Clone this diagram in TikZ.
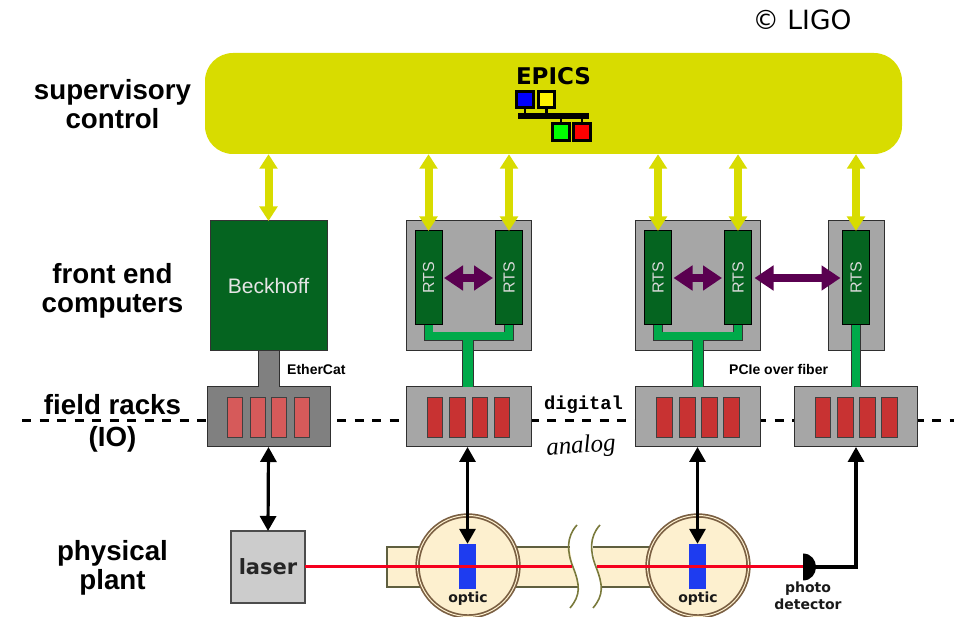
\documentclass[tikz,border=0pt]{standalone}
\usepackage{graphicx}
\usepackage{fontspec}
\setmainfont{Liberation Sans}
\newfontfamily\dejavu{DejaVu Sans}
\newfontfamily\typefont{Liberation Mono}
\newfontfamily\handfont{Liberation Serif}
\usetikzlibrary{arrows.meta, positioning, calc}

\definecolor{superyellow}{HTML}{D8DC00}
\definecolor{frontgreen}{HTML}{056420}
\definecolor{busgreen}{HTML}{00AA4A}
\definecolor{boxgray}{HTML}{A6A6A6}
\definecolor{darkgray}{HTML}{808080}
\definecolor{edgegray}{HTML}{2F2F2F}
\definecolor{cardred}{HTML}{C83232}
\definecolor{cardpale}{HTML}{D65A5A}
\definecolor{linkpurple}{HTML}{5A0050}
\definecolor{tubecream}{HTML}{FDF0CF}
\definecolor{tubeedge}{HTML}{5F5F3F}
\definecolor{wavyedge}{HTML}{7A7A3C}
\definecolor{ringbrown}{HTML}{7A5F42}
\definecolor{opticblue}{HTML}{1E3CF0}
\definecolor{laserred}{HTML}{F5001E}

\begin{document}
\begin{tikzpicture}[
    x=1pt, y=-1pt,
    % Row titles on the left
    rowlabel/.style={
        align=center,
        inner sep=0pt,
        font=\fontsize{27.7}{29}\selectfont\bfseries
    },
    % Supervisory band
    superbox/.style={
        rectangle,
        rounded corners=28pt,
        fill=superyellow,
        minimum width=697pt,
        minimum height=101pt,
        inner sep=0pt
    },
    % Gray computer and rack boxes
    graybox/.style={
        rectangle,
        draw=edgegray,
        line width=1pt,
        fill=boxgray,
        inner sep=0pt,
        outer sep=0pt
    },
    % Real time system card
    rtsbox/.style={
        rectangle,
        draw=black,
        line width=1pt,
        fill=frontgreen,
        text=white!85!black,
        minimum width=27pt,
        minimum height=94pt,
        inner sep=0pt,
        outer sep=0pt,
        font=\fontsize{16}{16}\selectfont
    },
    % Red card in a field rack
    cardbox/.style={
        rectangle,
        draw=black!75,
        line width=0.8pt,
        fill=cardred,
        minimum width=15.5pt,
        minimum height=40pt,
        inner sep=0pt
    },
    % EPICS logo squares
    logobox/.style={
        rectangle,
        draw=black,
        line width=3pt,
        minimum width=16.5pt,
        minimum height=16.5pt,
        inner sep=0pt,
        outer sep=0pt
    },
    % Optic on the beam
    opticbox/.style={
        rectangle,
        fill=opticblue,
        minimum width=17pt,
        minimum height=45pt,
        inner sep=0pt
    },
    % Vacuum chamber
    chamber/.style={
        circle,
        draw=ringbrown,
        line width=1.7pt,
        double=tubecream,
        double distance=1pt,
        fill=tubecream,
        minimum size=101pt,
        inner sep=0pt
    },
    % Small bold captions
    caption/.style={
        inner sep=0pt,
        font=\fontsize{14}{14}\selectfont\bfseries
    },
    plantcaption/.style={
        align=center,
        inner sep=0pt,
        text=black!90,
        font=\dejavu\fontsize{14}{17}\selectfont\bfseries
    },
    % Arrow styles
    superarrow/.style={
        {Triangle[length=14.5pt,width=17.5pt]}-{Triangle[length=14.5pt,width=17.5pt]},
        line width=8pt,
        superyellow
    },
    linkarrow/.style={
        {Triangle[length=19pt,width=24pt]}-{Triangle[length=19pt,width=24pt]},
        line width=8pt,
        linkpurple
    },
    plantarrow/.style={
        {Triangle[length=15pt,width=16pt]}-{Triangle[length=15pt,width=16pt]},
        line width=3.2pt,
        black
    },
    bus/.style={line width=8pt, busgreen},
    busedge/.style={line width=9.6pt, black!80},
    stem/.style={line width=10.5pt, busgreen},
    stemedge/.style={line width=12pt, black!80}
]
\useasboundingbox (0,0) rectangle (954,617);

% === Credit and row titles ===
\node[font=\dejavu\fontsize{26.5}{26.5}\selectfont, inner sep=0pt] (credit) at (802,20) {© LIGO};
\node[rowlabel] (rowsuper) at (112.5,104) {supervisory\\control};
\node[rowlabel] (rowfront) at (112.5,291) {front end\\computers};
\node[rowlabel, font=\fontsize{27.7}{32}\selectfont\bfseries] (rowfield) at (112.5,423) {field racks\\(IO)};
\node[rowlabel] (rowplant) at (112.5,568) {physical\\plant};

% === Field boundary ===
\coordinate (boundaryL) at (22,421);
\coordinate (boundaryR) at (954,421);
\draw[line width=3pt, dash pattern=on 9pt off 8.5pt] (boundaryL) -- (boundaryR);
\node[font=\typefont\fontsize{18.8}{18.8}\selectfont\bfseries, inner sep=0pt] (digital) at (583.5,405) {digital};
\node[font=\handfont\itshape\fontsize{25}{25}\selectfont, inner sep=0pt, rotate=4] (analog) at (581,447) {analog};

% === Supervisory control ===
\node[superbox] (super) at (553.5,103.5) {};
\node[font=\dejavu\fontsize{23}{23}\selectfont\bfseries, inner sep=0pt] (epics) at (553.5,76) {EPICS};
\node[logobox, fill=blue] (logoblue) at (525,99.5) {};
\node[logobox, fill=yellow] (logoyellow) at (546.5,99.5) {};
\node[logobox, fill=green] (logogreen) at (561,132) {};
\node[logobox, fill=red] (logored) at (582,132) {};
\coordinate (logobusL) at (518,116);
\coordinate (logobusR) at (589,116);
\draw[line width=6pt] (logobusL) -- (logobusR);
\draw[line width=2.4pt] (logoblue) -- (logoblue |- logobusL);
\draw[line width=2.4pt] (logoyellow) -- (logoyellow |- logobusL);
\draw[line width=2.4pt] (logogreen) -- (logogreen |- logobusL);
\draw[line width=2.4pt] (logored) -- (logored |- logobusL);

% === Front end computers ===
\node[graybox, draw=black!80, fill=frontgreen, minimum width=117pt, minimum height=130pt, text=white!90!black, font=\fontsize{21}{21}\selectfont] (beckhoff) at (268.5,286) {\raisebox{-2pt}{Beckhoff}};
\node[graybox, minimum width=125pt, minimum height=130pt] (frontA) at (468.5,286) {};
\node[rtsbox] (rtsA1) at (428.5,278) {\rotatebox{90}{RTS}};
\node[rtsbox] (rtsA2) at (509,278) {\rotatebox{90}{RTS}};
\node[graybox, minimum width=125pt, minimum height=130pt] (frontB) at (698,286) {};
\node[rtsbox] (rtsB1) at (658,278) {\rotatebox{90}{RTS}};
\node[rtsbox] (rtsB2) at (738,278) {\rotatebox{90}{RTS}};
\node[graybox, minimum width=56pt, minimum height=130pt] (frontC) at (856,286) {};
\node[rtsbox] (rtsC) at (856,278) {\rotatebox{90}{RTS}};

% === Field racks ===
\node[graybox, fill=darkgray, minimum width=123pt, minimum height=60pt] (rackE) at (268.5,417) {};
\node[graybox, minimum width=125pt, minimum height=60pt] (rackA) at (468.5,417) {};
\node[graybox, minimum width=125pt, minimum height=60pt] (rackB) at (698,417) {};
\node[graybox, minimum width=123pt, minimum height=60pt] (rackC) at (856,417) {};

\node[cardbox, fill=cardpale] (cardE1) at (235,417) {};
\node[cardbox, fill=cardpale] (cardE2) at (258,417) {};
\node[cardbox, fill=cardpale] (cardE3) at (279,417) {};
\node[cardbox, fill=cardpale] (cardE4) at (302,417) {};

\node[cardbox] (cardA1) at (435,417) {};
\node[cardbox] (cardA2) at (457.5,417) {};
\node[cardbox] (cardA3) at (480,417) {};
\node[cardbox] (cardA4) at (502,417) {};

\node[cardbox] (cardB1) at (664.5,417) {};
\node[cardbox] (cardB2) at (687.5,417) {};
\node[cardbox] (cardB3) at (709.5,417) {};
\node[cardbox] (cardB4) at (731.5,417) {};

\node[cardbox] (cardC1) at (823,417) {};
\node[cardbox] (cardC2) at (845.5,417) {};
\node[cardbox] (cardC3) at (867.5,417) {};
\node[cardbox] (cardC4) at (889.5,417) {};

% === Links from racks to computers ===
\draw[line width=21pt, darkgray] (beckhoff.south) -- (rackE.north);
\draw[line width=1pt, edgegray] ([xshift=-10.5pt]beckhoff.south) -- ([xshift=-10.5pt]rackE.north);
\draw[line width=1pt, edgegray] ([xshift=10.5pt]beckhoff.south) -- ([xshift=10.5pt]rackE.north);

\coordinate (busA) at (468,336.5);
\coordinate (busB) at (698,336.5);
\draw[busedge] (rtsA1.south) |- (busA) -| (rtsA2.south);
\draw[stemedge] (busA) -- (busA |- rackA.north);
\draw[bus] (rtsA1.south) |- (busA) -| (rtsA2.south);
\draw[stem] (busA) -- (busA |- rackA.north);
\draw[busedge] (rtsB1.south) |- (busB) -| (rtsB2.south);
\draw[stemedge] (busB) -- (rackB.north);
\draw[bus] (rtsB1.south) |- (busB) -| (rtsB2.south);
\draw[stem] (busB) -- (rackB.north);
\draw[line width=10pt, black!80] (rtsC.south) -- (rackC.north);
\draw[line width=8.5pt, busgreen] (rtsC.south) -- (rackC.north);

\node[caption, anchor=west] (ethercat) at (287,369) {EtherCat};
\node[caption, anchor=west] (pcie) at (729,369) {PCIe over fiber};

% === Arrows to supervisory control ===
\draw[superarrow] (super.south -| beckhoff.north) -- (beckhoff.north);
\draw[superarrow] (super.south -| rtsA1.north) -- (rtsA1.north);
\draw[superarrow] (super.south -| rtsA2.north) -- (rtsA2.north);
\draw[superarrow] (super.south -| rtsB1.north) -- (rtsB1.north);
\draw[superarrow] (super.south -| rtsB2.north) -- (rtsB2.north);
\draw[superarrow] (super.south -| rtsC.north) -- (rtsC.north);

% === Arrows between RTS cards ===
\draw[linkarrow, shorten <=2pt, shorten >=2.5pt] (rtsA1) -- (rtsA2);
\draw[linkarrow, shorten <=2pt, shorten >=2.5pt] (rtsB1) -- (rtsB2);
\draw[linkarrow, shorten <=3pt, shorten >=2pt] (rtsB2) -- (rtsC);

% === Physical plant ===
\fill[tubecream] (387,547) -- (569.5,547) -- (573,567) -- (578.5,587) -- (387,587) -- cycle;
\fill[tubecream] (592.5,547) -- (650,547) -- (650,587) -- (601.5,587) -- (596,567) -- cycle;
\draw[line width=1.5pt, tubeedge] (569.5,547) -- (387,547) -- (387,587) -- (578.5,587);
\draw[line width=1.5pt, tubeedge] (592.5,547) -- (650,547);
\draw[line width=1.5pt, tubeedge] (601.5,587) -- (650,587);
\draw[line width=1.6pt, wavyedge] (577,525) .. controls (566,537) and (567,552) .. (573,567) .. controls (580,585) and (581,595) .. (570,608);
\draw[line width=1.6pt, wavyedge] (600,525) .. controls (589,537) and (590,552) .. (596,567) .. controls (603,585) and (604,595) .. (593,608);

\node[chamber] (chamberA) at (468,566) {};
\node[chamber] (chamberB) at (698,566) {};
\node[opticbox] (opticA) at (467.5,566.5) {};
\node[opticbox] (opticB) at (697.5,566.5) {};
\node[plantcaption] (opticlabelA) at (468,599) {optic};
\node[plantcaption] (opticlabelB) at (698,599) {optic};

\node[graybox, draw=black!70, line width=1.6pt, fill=black!20, minimum width=74pt, minimum height=72pt, font=\dejavu\fontsize{21}{21}\selectfont\bfseries, text=black!85] (laser) at (268,567) {laser};

\coordinate (detector) at (803,567);
\coordinate (detectorout) at (815,567);
\fill (803,553.5) .. controls (811,553.5) and (816,560) .. (816,567) .. controls (816,574) and (811,580.5) .. (803,580.5) -- cycle;
\node[plantcaption, anchor=north] (detectorlabel) at (808,582) {photo\\detector};

\coordinate (breakL) at (572,567);
\coordinate (breakR) at (597,567);
\draw[line width=3pt, laserred] (laser.east) -- (breakL);
\draw[line width=3pt, laserred] (breakR) -- (detector);

% === Arrows to the plant ===
\draw[plantarrow] (rackE.south) -- (laser.north);
\draw[plantarrow] (rackA.south -| opticA.north) -- (opticA.north);
\draw[plantarrow] (rackB.south -| opticB.north) -- (opticB.north);
\draw[line width=3.2pt, -{Triangle[length=15pt,width=16pt]}] (detectorout) -| (rackC.south);

\end{tikzpicture}
\end{document}
